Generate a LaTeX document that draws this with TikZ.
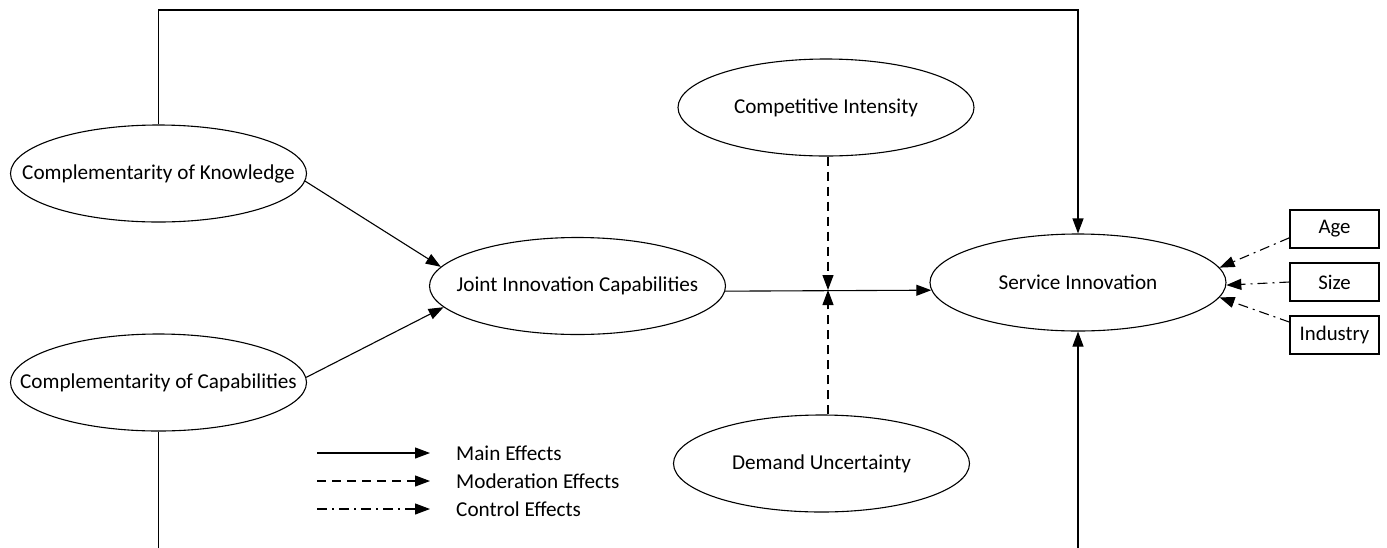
\documentclass[tikz,border=0pt]{standalone}
\usepackage{fontspec}
\setmainfont{Carlito}
\usetikzlibrary{shapes.geometric,arrows.meta}
\begin{document}
\begin{tikzpicture}[x=1pt,y=-1pt,
  construct/.style={ellipse,draw,line width=1.1pt,minimum width=296pt,minimum height=97pt,inner sep=0pt,font=\fontsize{21.2}{25}\selectfont},
  ctrlbox/.style={rectangle,draw,line width=1.1pt,minimum width=89pt,minimum height=38pt,inner sep=0pt,font=\fontsize{20.8}{25}\selectfont},
  legendtext/.style={anchor=west,inner sep=0pt,font=\fontsize{21.2}{25}\selectfont},
  link/.style={line width=1.1pt},
  tip/.style={-{Triangle[length=15pt,width=11pt]}},
  mainfx/.style={link,tip},
  modfx/.style={link,tip,dash pattern=on 9pt off 6pt},
  ctrlfx/.style={link,tip,dash pattern=on 10pt off 5pt on 2pt off 5pt},
]
\useasboundingbox (0,0) rectangle (1387,547);

% constructs
\node[construct] (CK)  at (158.5,173.5) {\makebox[0pt]{Complementarity of Knowledge}};
\node[construct] (CC)  at (158.5,382.5) {\makebox[0pt]{Complementarity of Capabilities}};
\node[construct] (JIC) at (577.5,286)   {\makebox[0pt]{Joint Innovation Capabilities}};
\node[construct] (CI)  at (826,107.5)   {\makebox[0pt]{Competitive Intensity}};
\node[construct] (DU)  at (821.5,463.5) {\makebox[0pt]{Demand Uncertainty}};
\node[construct] (SI)  at (1078,282.5)  {\makebox[0pt]{Service Innovation}};

% control variables
\node[ctrlbox] (Age)      at (1334.5,229) {Age};
\node[ctrlbox] (Size)     at (1334.5,282) {Size};
\node[ctrlbox] (Industry) at (1334.5,335) {Industry};

% main effects
\draw[mainfx] (CK.-3) -- (JIC.172);
\draw[mainfx] (CC.2) -- (JIC.189);
\draw[mainfx] (JIC.-2) -- (SI.183.5);

% direct paths running along the top and off the bottom
\coordinate (topy) at (0,10);
\coordinate (boty) at (0,549);
\draw[mainfx] (CK.north) |- (topy -| SI.north) -- (SI.north);
\draw[link] (CC.south) -- (CC.south |- boty);
\draw[mainfx] (SI.south |- boty) -- (SI.south);

% moderation
\coordinate (mod) at (828,290);
\draw[modfx] (CI.south -| mod) -- (mod);
\draw[modfx] (DU.north -| mod) -- (mod);

% controls
\draw[ctrlfx] (Age.191) -- (SI.6);
\draw[ctrlfx] (Size.west) -- (SI.-1);
\draw[ctrlfx] (Industry.164) -- (SI.-6);

% legend
\coordinate (la1) at (317,453); \coordinate (lb1) at (430,453);
\coordinate (la2) at (317,481); \coordinate (lb2) at (430,481);
\coordinate (la3) at (317,509); \coordinate (lb3) at (430,509);
\draw[mainfx] (la1) -- (lb1);
\draw[modfx]  (la2) -- (lb2);
\draw[ctrlfx] (la3) -- (lb3);
\node[legendtext] (lt1) at (456,453) {Main Effects};
\node[legendtext] (lt2) at (456,481) {Moderation Effects};
\node[legendtext] (lt3) at (456,509) {Control Effects};
\end{tikzpicture}
\end{document}
